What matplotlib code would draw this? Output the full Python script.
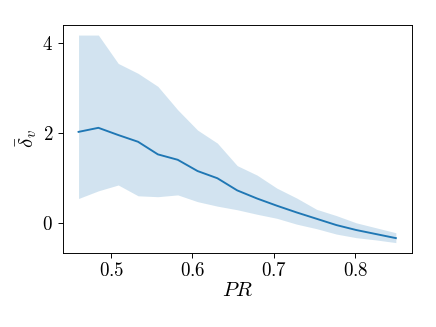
import numpy as np
import matplotlib
matplotlib.use("Agg")
import matplotlib.pyplot as plt
from matplotlib.ticker import FuncFormatter

plt.rcParams['mathtext.fontset'] = 'cm'
plt.rcParams['font.family'] = 'serif'
plt.rcParams['font.serif'] = ['cmr10', 'DejaVu Serif']
plt.rcParams['axes.unicode_minus'] = False

pr = [0.46, 0.484375, 0.50875, 0.533125, 0.5575, 0.581875, 0.60625, 0.630625,
      0.655, 0.679375, 0.70375, 0.728125, 0.7525, 0.776875, 0.80125, 0.825625, 0.85]
mean = [2.03, 2.12, 1.96, 1.81, 1.53, 1.41, 1.16, 1.00, 0.73, 0.55, 0.39, 0.24,
        0.10, -0.04, -0.15, -0.24, -0.33]
upper = [4.18, 4.18, 3.55, 3.33, 3.04, 2.52, 2.07, 1.78, 1.28, 1.07, 0.78, 0.56,
         0.31, 0.17, 0.01, -0.10, -0.21]
lower = [0.55, 0.72, 0.85, 0.61, 0.59, 0.63, 0.48, 0.38, 0.30, 0.20, 0.11, -0.02,
         -0.12, -0.24, -0.32, -0.37, -0.43]

fig = plt.figure(figsize=(6.4, 4.8), dpi=68.125)
ax = fig.add_axes([0.1438, 0.2263, 0.9443 - 0.1438, 0.9245 - 0.2263])
ax.fill_between(pr, lower, upper, color='#1f77b4', alpha=0.2, linewidth=0)
ax.plot(pr, mean, color='#1f77b4', linewidth=2.0)

ax.set_xticks([0.5, 0.6, 0.7, 0.8])
ax.set_yticks([0, 2, 4])
fmt = FuncFormatter(lambda v, p: r'$%g$' % v)
ax.xaxis.set_major_formatter(fmt)
ax.yaxis.set_major_formatter(fmt)
ax.tick_params(labelsize=20, length=5, width=1, direction='out', pad=5)
ax.set_xlabel(r'$PR$', fontsize=22, labelpad=2)
ax.set_ylabel(r'$\bar{\delta}_v$', fontsize=22, labelpad=4)
for s in ax.spines.values():
    s.set_linewidth(1.0)

fig.savefig('out.png', dpi=68.125)
